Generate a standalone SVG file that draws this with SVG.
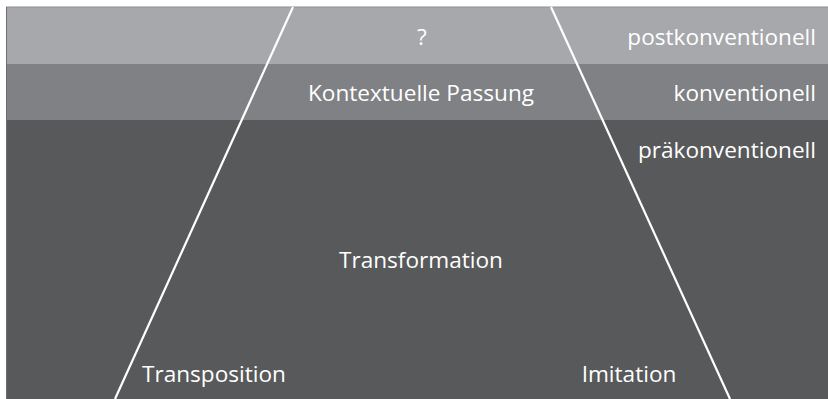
<svg xmlns="http://www.w3.org/2000/svg" width="828" height="399" viewBox="0 0 828 399">
<style>
  text { font-family: "Open Sans", "Noto Sans", "DejaVu Sans", sans-serif; font-size: 22.6px; fill: #ffffff; }
  .mid { text-anchor: middle; }
  .end { text-anchor: end; }
  .edge { stroke: #ffffff; stroke-width: 2.2; fill: none; }
</style>
<rect x="0" y="0" width="828" height="399" fill="#ffffff"/>
<g id="band-post">
  <rect x="6" y="7" width="822" height="57" fill="#a7a8ab"/>
  <text x="422" y="45" class="mid">?</text>
  <text x="816" y="45" class="end">postkonventionell</text>
</g>
<g id="band-konv">
  <rect x="6" y="64" width="822" height="56" fill="#808184"/>
  <text x="421" y="101" class="mid">Kontextuelle Passung</text>
  <text x="816" y="101" class="end">konventionell</text>
</g>
<g id="band-prae">
  <rect x="6" y="120" width="822" height="279" fill="#58595b"/>
  <text x="816" y="158" class="end">präkonventionell</text>
  <text x="421" y="268" class="mid">Transformation</text>
  <text x="142" y="382">Transposition</text>
  <text x="629" y="382" class="mid">Imitation</text>
</g>
<line x1="6" y1="7" x2="828" y2="7" stroke="#8e8f92" stroke-width="1"/>
<line x1="6.5" y1="7" x2="6.5" y2="399" stroke="#6d6e71" stroke-width="1"/>
<g id="connectors">
  <line class="edge" x1="293" y1="7" x2="115" y2="399"/>
  <line class="edge" x1="551" y1="7" x2="730" y2="399"/>
</g>
</svg>
